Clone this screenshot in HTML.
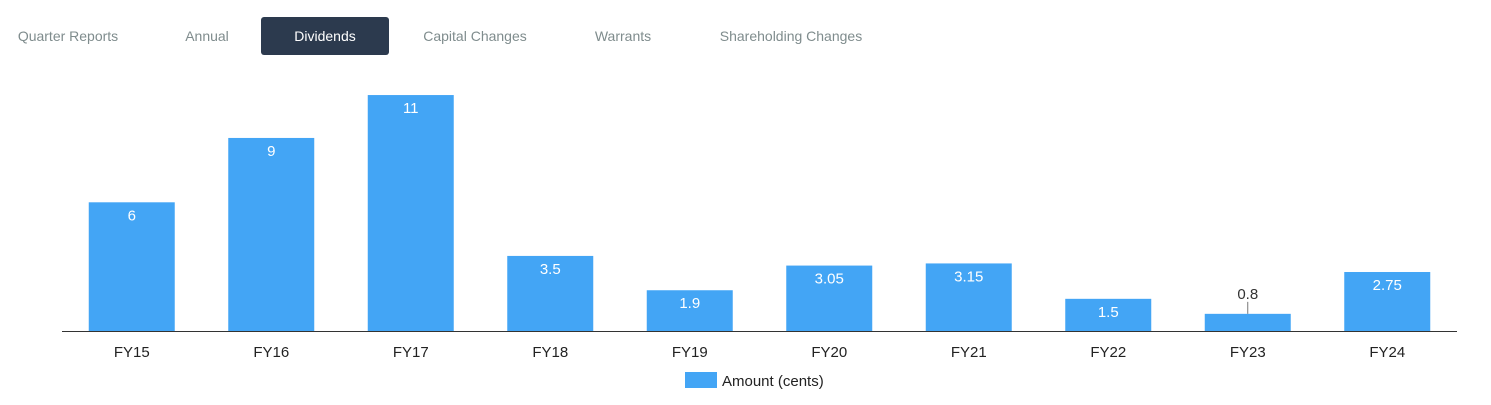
<!DOCTYPE html>
<html><head><meta charset="utf-8"><style>
body{margin:0;width:1491px;height:405px;background:#fff;font-family:"Liberation Sans",sans-serif;overflow:hidden;position:relative}
.tab{position:absolute;top:17px;height:38px;line-height:38px;font-size:14px;color:#7f8c8d;text-align:center;cursor:pointer}
.tab.active{background:#2c3a4e;color:#fff;border-radius:3px}
</style></head><body>
<div class="tab" style="left:0;width:136px">Quarter Reports</div>
<div class="tab" style="left:160px;width:94px">Annual</div>
<div class="tab active" style="left:261px;width:128px">Dividends</div>
<div class="tab" style="left:405px;width:140px">Capital Changes</div>
<div class="tab" style="left:578px;width:90px">Warrants</div>
<div class="tab" style="left:700px;width:182px">Shareholding Changes</div>
<svg id="chart" width="1491" height="405" style="position:absolute;left:0;top:0"></svg>
<script>
const categories=["FY15","FY16","FY17","FY18","FY19","FY20","FY21","FY22","FY23","FY24"];
const amounts=[6,9,11,3.5,1.9,3.05,3.15,1.5,0.8,2.75];
const valueLabels=["6","9","11","3.5","1.9","3.05","3.15","1.5","0.8","2.75"];
const NS="http://www.w3.org/2000/svg";
const svg=document.getElementById('chart');
const x0=62,x1=1457,base=331,pxPerUnit=21.45;
const band=(x1-x0)/categories.length,bw=86;
const xScale=i=>x0+band*i+band/2;
const yScale=v=>base-v*pxPerUnit;
function mk(tag,attrs){const e=document.createElementNS(NS,tag);for(const k in attrs)e.setAttribute(k,attrs[k]);svg.appendChild(e);return e;}
categories.forEach((c,i)=>{
  const cx=xScale(i),top=yScale(amounts[i]);
  const r=mk('rect',{x:cx-bw/2,y:top,width:bw,height:base-top,fill:'#43a5f5'});
  
  
  const h=base-top;
  let t;
  if(h>=25){
    t=mk('text',{x:cx,y:top+18,'text-anchor':'middle','font-size':'15',fill:'#fff'});
  }else{
    const ln=mk('line',{x1:cx,y1:top,x2:cx,y2:top-12,stroke:'#777','stroke-width':1});
    
    
    t=mk('text',{x:cx,y:top-15,'text-anchor':'middle','font-size':'15',fill:'#333'});
  }
  t.textContent=valueLabels[i];
  
  
  const xl=mk('text',{x:cx,y:357,'text-anchor':'middle','font-size':'15',fill:'#222'});
  xl.textContent=c;
  
  
});
const ax=mk('line',{x1:x0,y1:base+0.5,x2:x1,y2:base+0.5,stroke:'#333','stroke-width':1});


const lr=mk('rect',{x:685,y:372,width:32,height:16,fill:'#43a5f5'});


const lt=mk('text',{x:722,y:386,'font-size':'15',fill:'#222'});
lt.textContent='Amount (cents)';


</script>
</body></html>
